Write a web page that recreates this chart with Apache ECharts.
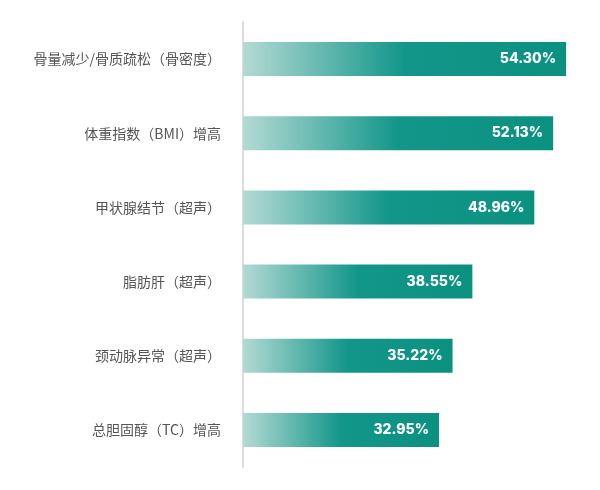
<!DOCTYPE html>
<html>
<head>
<meta charset="utf-8">
<script src="https://cdn.jsdelivr.net/npm/echarts@6/dist/echarts.min.js"></script>
<style>
    html, body { margin: 0; padding: 0; background: #fff; }
    #main { width: 600px; height: 490px; }
</style>
</head>
<body>
<div id="main"></div>
<script>
// 类目（从下到上）
var categories = ['总胆固醇（TC）增高', '颈动脉异常（超声）', '脂肪肝（超声）', '甲状腺结节（超声）', '体重指数（BMI）增高', '骨量减少/骨质疏松（骨密度）'];
var values = [32.95, 35.22, 38.55, 48.96, 52.13, 54.30];

var myChart = echarts.init(document.getElementById('main'));

var option = {
    animation: false,
    grid: {
        left: 243,
        right: 0,
        top: 22,
        bottom: 23
    },
    xAxis: {
        type: 'value',
        min: 0,
        max: 60,
        show: false
    },
    yAxis: {
        type: 'category',
        data: categories,
        axisLine: {
            show: true,
            lineStyle: {color: '#dcdcdc', width: 2}
        },
        axisTick: {show: false},
        axisLabel: {
            margin: 22,
            color: '#555',
            fontSize: 14,
            fontFamily: 'Noto Sans CJK SC'
        }
    },
    series: [
        {
            type: 'bar',
            data: values,
            barWidth: 34,
            itemStyle: {
                color: new echarts.graphic.LinearGradient(0, 0, 1, 0, [
                    {offset: 0, color: '#b3dad4'},
                    {offset: 0.5, color: '#13968a'},
                    {offset: 1, color: '#0b9180'}
                ])
            },
            label: {
                show: true,
                position: 'insideRight',
                distance: 10,
                color: '#fff',
                fontSize: 14,
                fontWeight: 800,
                fontFamily: 'Inter',
                formatter: function (p) {
                    return p.value.toFixed(2) + '%';
                }
            }
        }
    ]
};

myChart.setOption(option);
</script>
</body>
</html>
